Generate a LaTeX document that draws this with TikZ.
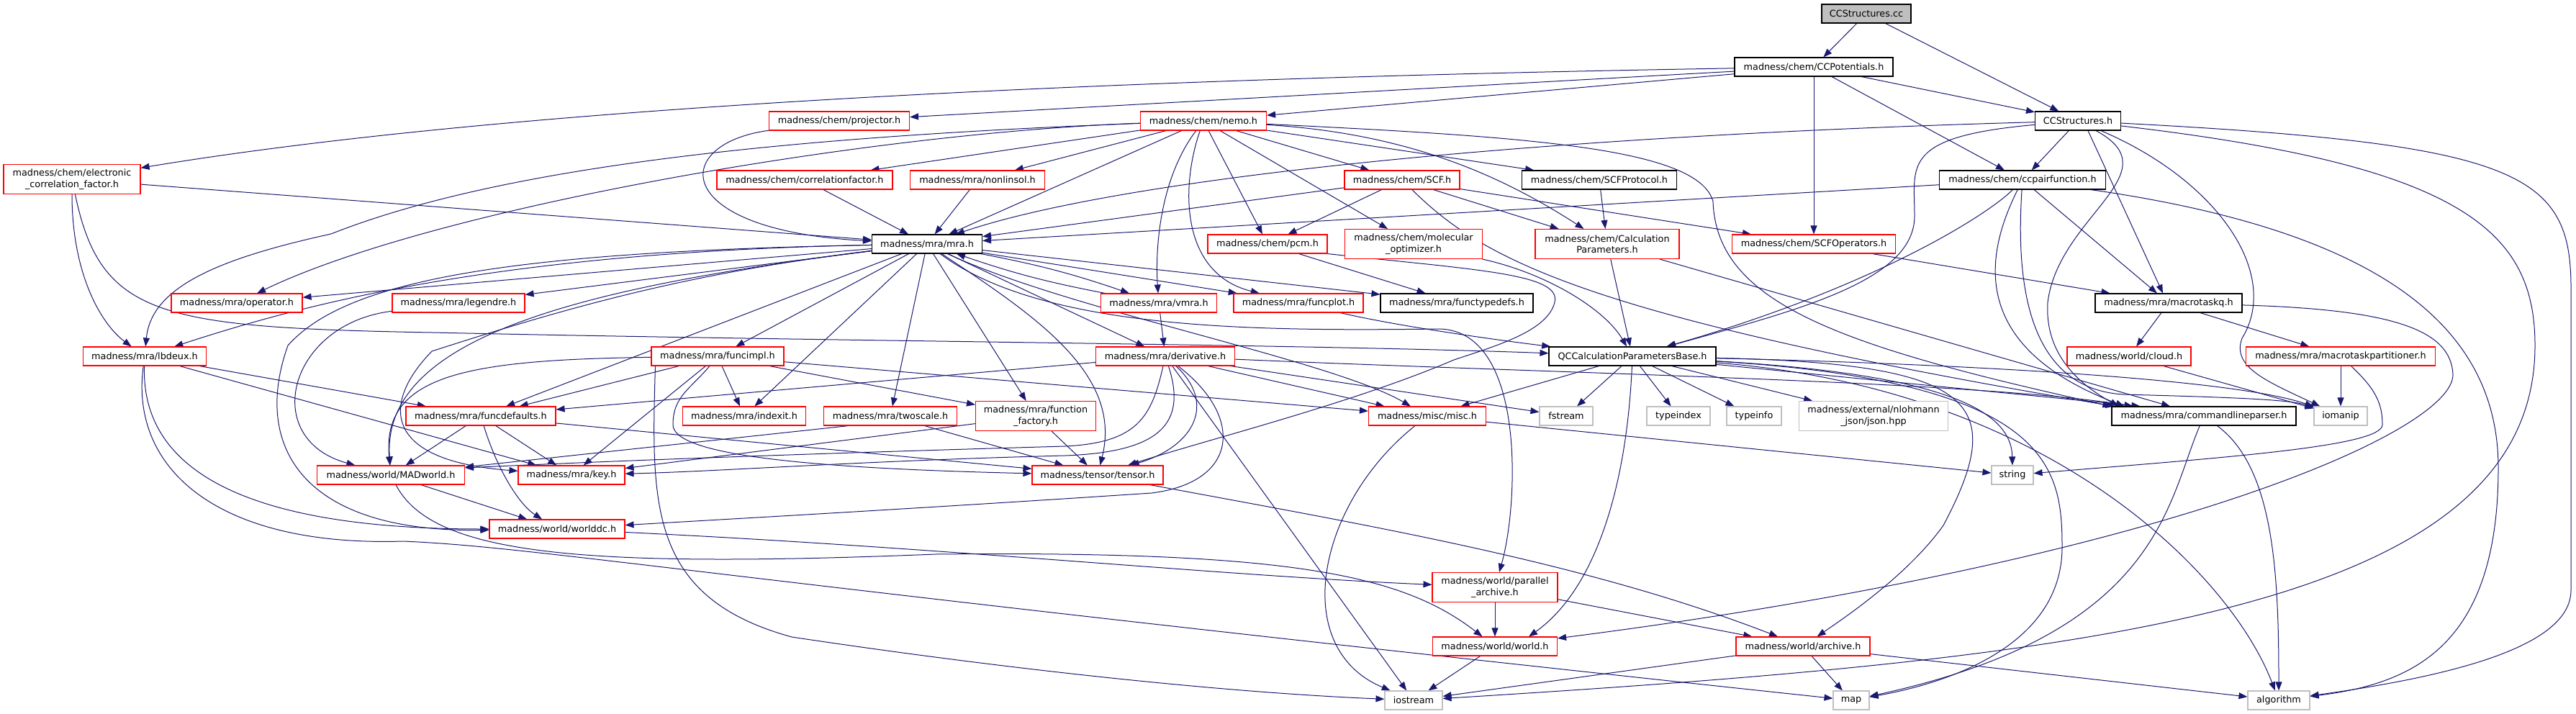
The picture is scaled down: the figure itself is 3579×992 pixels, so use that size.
\documentclass[tikz,border=0pt]{standalone}
\usepackage{fontspec}
\setmainfont{DejaVu Sans}
\usetikzlibrary{arrows.meta}
\definecolor{edgeblue}{HTML}{191970}
\definecolor{sysgray}{HTML}{BFBFBF}
\pgfdeclarelayer{wires}
\pgfsetlayers{wires,main}

\begin{document}
\begin{tikzpicture}[x=1pt,y=-1pt,
    hdr/.style={draw,fill=white,line width=1.1pt,inner sep=0pt,minimum height=26pt,
      align=center,font=\fontsize{12.8}{15.5}\selectfont},
    fullhdr/.style={hdr,draw=black},
    cuthdr/.style={hdr,draw=red},
    syshdr/.style={hdr,draw=sysgray},
    roothdr/.style={hdr,draw=black,fill=sysgray},
    twoline/.style={minimum height=41pt},
    edge/.style={draw=edgeblue,line width=1pt,-{Triangle[length=12pt,width=9pt]}}]

  % Frame
  \useasboundingbox (0,0) rectangle (3579,992);

  % Headers
  \node[roothdr,minimum width=124] (cc) at (2593,19) {CCStructures.cc};
  \node[fullhdr,minimum width=220] (ccpot) at (2520,93) {madness/chem/CCPotentials.h};
  \node[cuthdr,minimum width=195] (proj) at (1166,168) {madness/chem/projector.h};
  \node[cuthdr,minimum width=175] (nemo) at (1672,168) {madness/chem/nemo.h};
  \node[fullhdr,minimum width=119] (ccstr) at (2887,168) {CCStructures.h};

  \node[cuthdr,twoline,minimum width=190] (ecf) at (100,249) {madness/chem/electronic\\\_correlation\_factor.h};
  \node[cuthdr,minimum width=244] (corrf) at (1118,250) {madness/chem/correlationfactor.h};
  \node[cuthdr,minimum width=187] (nonlin) at (1358,250) {madness/mra/nonlinsol.h};
  \node[cuthdr,minimum width=160] (scf) at (1948,250) {madness/chem/SCF.h};
  \node[fullhdr,minimum width=215] (scfprot) at (2222,250) {madness/chem/SCFProtocol.h};
  \node[fullhdr,minimum width=231] (ccpair) at (2810,250) {madness/chem/ccpairfunction.h};

  \node[fullhdr,minimum width=153] (mra) at (1288,339) {madness/mra/mra.h};
  \node[cuthdr,minimum width=166] (pcm) at (1761,339) {madness/chem/pcm.h};
  \node[cuthdr,twoline,minimum width=191] (molopt) at (1964,339) {madness/chem/molecular\\\_optimizer.h};
  \node[cuthdr,twoline,minimum width=200] (calcpar) at (2233,339) {madness/chem/Calculation\\Parameters.h};
  \node[cuthdr,minimum width=227] (scfop) at (2520,339) {madness/chem/SCFOperators.h};

  \node[cuthdr,minimum width=182] (oper) at (329,421) {madness/mra/operator.h};
  \node[cuthdr,minimum width=184] (legendre) at (637,421) {madness/mra/legendre.h};
  \node[cuthdr,minimum width=161] (vmra) at (1610,421) {madness/mra/vmra.h};
  \node[cuthdr,minimum width=180] (funcplot) at (1804,421) {madness/mra/funcplot.h};
  \node[fullhdr,minimum width=212] (functypedefs) at (2024,421) {madness/mra/functypedefs.h};
  \node[fullhdr,minimum width=204] (macroq) at (3013,421) {madness/mra/macrotaskq.h};

  \node[cuthdr,minimum width=171] (lbdeux) at (201,495) {madness/mra/lbdeux.h};
  \node[cuthdr,minimum width=184] (funcimpl) at (997,495) {madness/mra/funcimpl.h};
  \node[cuthdr,minimum width=193] (deriv) at (1619,495) {madness/mra/derivative.h};
  \node[fullhdr,minimum width=232] (qcc) at (2268,495) {QCCalculationParametersBase.h};
  \node[cuthdr,minimum width=172] (cloud) at (2958,495) {madness/world/cloud.h};
  \node[cuthdr,minimum width=263] (mtpart) at (3252,495) {madness/mra/macrotaskpartitioner.h};

  \node[cuthdr,minimum width=208] (funcdef) at (668,578) {madness/mra/funcdefaults.h};
  \node[cuthdr,minimum width=171] (indexit) at (1034,578) {madness/mra/indexit.h};
  \node[cuthdr,minimum width=185] (twoscale) at (1237,578) {madness/mra/twoscale.h};
  \node[cuthdr,twoline,minimum width=167] (funcfact) at (1439,578) {madness/mra/function\\\_factory.h};
  \node[cuthdr,minimum width=163] (misc) at (1983,578) {madness/misc/misc.h};
  \node[syshdr,minimum width=74] (fstream) at (2176,578) {fstream};
  \node[syshdr,minimum width=88] (typeindex) at (2332,578) {typeindex};
  \node[syshdr,minimum width=76] (typeinfo) at (2437,578) {typeinfo};
  \node[syshdr,twoline,minimum width=207] (json) at (2603,578) {madness/external/nlohmann\\\_json/json.hpp};
  \node[fullhdr,minimum width=256] (cmdline) at (3062,578) {madness/mra/commandlineparser.h};
  \node[syshdr,minimum width=74] (iomanip) at (3252,578) {iomanip};

  \node[cuthdr,minimum width=205] (madworld) at (543,660) {madness/world/MADworld.h};
  \node[cuthdr,minimum width=148] (key) at (794,660) {madness/mra/key.h};
  \node[cuthdr,minimum width=182] (tensor) at (1525,660) {madness/tensor/tensor.h};
  \node[syshdr,minimum width=58] (string) at (2796,660) {string};

  \node[cuthdr,minimum width=188] (worlddc) at (774,735) {madness/world/worlddc.h};
  \node[cuthdr,twoline,minimum width=174] (parach) at (2077,816) {madness/world/parallel\\\_archive.h};
  \node[cuthdr,minimum width=173] (world) at (2077,898) {madness/world/world.h};
  \node[cuthdr,minimum width=186] (archive) at (2505,898) {madness/world/archive.h};

  \node[syshdr,minimum width=80] (iostream) at (1964,973) {iostream};
  \node[syshdr,minimum width=50] (map) at (2572,973) {map};
  \node[syshdr,minimum width=86] (algorithm) at (3166,973) {algorithm};

  \begin{pgfonlayer}{wires}
  % CCStructures.cc
  \draw[edge] (cc) -- (ccpot);
  \draw[edge] (cc) -- (ccstr);
  % CCPotentials.h
  \draw[edge] (ccpot) .. controls (1500,110) and (700,150) .. (ecf);
  \draw[edge] (ccpot) -- (proj);
  \draw[edge] (ccpot) -- (nemo);
  \draw[edge] (ccpot) -- (ccstr);
  \draw[edge] (ccpot) -- (ccpair);
  \draw[edge] (ccpot) -- (scfop);
  % CCStructures.h
  \draw[edge] (ccstr) .. controls (2100,190) and (1550,250) .. (mra);
  \draw[edge] (ccstr) -- (ccpair);
  \draw[edge] (ccstr) .. controls (2640,190) and (2660,230) .. (2660,300) .. controls (2660,390) and (2500,430) .. (qcc);
  \draw[edge] ([xshift=14pt]ccstr.south) -- ([xshift=-8pt]macroq.north);
  \draw[edge] (ccstr) .. controls (3020,240) and (2860,300) .. (2845,420) .. controls (2840,500) and (2900,540) .. ([xshift=10pt]cmdline.north west);
  \draw[edge] (ccstr) .. controls (3080,250) and (3170,380) .. (3115,470) .. controls (3100,510) and (3150,530) .. (iomanip);
  \draw[edge] (ccstr) .. controls (3500,200) and (3572,240) .. (3572,400) -- (3572,820) .. controls (3572,900) and (3400,940) .. (algorithm);
  \draw[edge] (ccstr) .. controls (3420,230) and (3522,320) .. (3522,480) .. controls (3522,850) and (2900,915) .. (iostream);
  % ccpairfunction.h
  \draw[edge] (ccpair) -- (mra);
  \draw[edge] (ccpair) .. controls (2760,300) and (2600,400) .. (qcc);
  \draw[edge] (ccpair) -- (macroq);
  \draw[edge] (ccpair) .. controls (2760,350) and (2730,480) .. ([xshift=18pt]cmdline.north west);
  \draw[edge] (ccpair) .. controls (2800,400) and (2820,540) .. (2950,548) .. controls (3100,552) and (3180,555) .. (iomanip);
  \draw[edge] (ccpair) .. controls (3300,320) and (3471,450) .. (3471,650) .. controls (3471,900) and (3350,950) .. (algorithm);
  % nemo.h
  \draw[edge] (nemo) -- (mra);
  \draw[edge] (nemo) -- (corrf);
  \draw[edge] (nemo) -- (nonlin);
  \draw[edge] (nemo) -- (scf);
  \draw[edge] (nemo) -- (scfprot);
  \draw[edge] (nemo) .. controls (1950,185) and (2080,240) .. (calcpar);
  \draw[edge] (nemo) -- (molopt);
  \draw[edge] (nemo) -- (pcm);
  \draw[edge] (nemo) .. controls (1610,250) and (1605,350) .. (vmra);
  \draw[edge] (nemo) .. controls (1640,260) and (1640,380) .. (funcplot);
  \draw[edge] (nemo) .. controls (1200,185) and (600,290) .. (oper);
  \draw[edge] (nemo) .. controls (1100,190) and (700,230) .. (460,325) .. controls (300,360) and (210,400) .. (lbdeux);
  \draw[edge] (nemo) .. controls (2120,190) and (2360,205) .. (2380,280) .. controls (2385,420) and (2550,480) .. (cmdline.north west);
  % electronic_correlation_factor.h
  \draw[edge] (ecf) -- (mra);
  \draw[edge] (ecf) .. controls (100,380) and (140,450) .. (lbdeux);
  \draw[edge] (ecf) .. controls (140,440) and (220,455) .. (600,462) .. controls (1200,475) and (1800,478) .. (qcc);
  % projector, correlationfactor, nonlinsol
  \draw[edge] (proj) .. controls (930,200) and (930,320) .. (mra);
  \draw[edge] (corrf) -- (mra);
  \draw[edge] (nonlin) -- (mra);
  % SCF.h
  \draw[edge] (scf) -- (mra);
  \draw[edge] (scf) -- (pcm);
  \draw[edge] (scf) -- (calcpar);
  \draw[edge] (scf) -- (scfop);
  \draw[edge] (scf) .. controls (2060,360) and (2200,440) .. ([xshift=4pt]cmdline.north west);
  % SCFProtocol, CalculationParameters, molecular_optimizer, pcm, SCFOperators
  \draw[edge] (scfprot) -- (calcpar);
  \draw[edge] (calcpar) -- (qcc);
  \draw[edge] (calcpar) -- (cmdline);
  \draw[edge] (molopt) .. controls (2150,380) and (2230,430) .. (qcc);
  \draw[edge] (pcm) -- (functypedefs);
  \draw[edge] (pcm.south east) .. controls (2050,375) and (2170,380) .. (2160,420) .. controls (2150,460) and (2080,480) .. (2020,500) .. controls (1880,560) and (1680,610) .. (tensor);
  \draw[edge] (scfop) -- (macroq);
  % mra.h
  \draw[edge] (mra) -- (oper);
  \draw[edge] (mra) -- (legendre);
  \draw[edge] (mra) .. controls (700,350) and (430,420) .. (lbdeux);
  \draw[edge] (mra) -- (funcdef);
  \draw[edge] (mra) .. controls (800,400) and (530,470) .. (madworld);
  \draw[edge] (mra) .. controls (950,380) and (780,430) .. (600,488) .. controls (530,560) and (530,640) .. (key);
  \draw[edge] (mra) .. controls (700,350) and (480,390) .. (400,480) .. controls (350,620) and (420,740) .. (worlddc);
  \draw[edge] (mra) -- (funcimpl);
  \draw[edge] (mra) -- (indexit);
  \draw[edge] (mra) -- (twoscale);
  \draw[edge] (mra) -- (funcfact);
  \draw[edge] (mra) .. controls (1440,440) and (1560,520) .. (tensor);
  \draw[edge] (mra) -- (deriv);
  \draw[edge] (mra) to[bend left=4] (vmra);
  \draw[edge] (mra) -- (funcplot);
  \draw[edge] (mra) -- (functypedefs);
  \draw[edge] (mra) .. controls (1480,430) and (1850,500) .. (misc);
  \draw[edge] (mra) .. controls (1450,460) and (1750,460) .. (2000,457) .. controls (2120,460) and (2110,700) .. (parach);
  % vmra.h, funcplot.h
  \draw[edge] (vmra) to[bend left=4] (mra);
  \draw[edge] (vmra) -- (deriv);
  \draw[edge] (funcplot) .. controls (1950,455) and (2100,475) .. (qcc);
  % lbdeux.h, legendre.h
  \draw[edge] (lbdeux) -- (funcdef);
  \draw[edge] (lbdeux) -- (key);
  \draw[edge] (lbdeux) .. controls (195,680) and (400,735) .. (worlddc);
  \draw[edge] (lbdeux) .. controls (180,650) and (300,760) .. (560,752) .. controls (750,760) and (950,800) .. (map);
  \draw[edge] (legendre) .. controls (400,450) and (360,610) .. (madworld);
  % funcimpl.h
  \draw[edge] (funcimpl) -- (funcdef);
  \draw[edge] (funcimpl) .. controls (650,500) and (530,520) .. (madworld);
  \draw[edge] (funcimpl) -- (key);
  \draw[edge] (funcimpl) -- (indexit);
  \draw[edge] (funcimpl) -- (funcfact);
  \draw[edge] (funcimpl) .. controls (960,540) and (935,550) .. (935,590) .. controls (935,630) and (1100,650) .. (tensor);
  \draw[edge] (funcimpl) -- (misc);
  \draw[edge] ([xshift=6pt]funcimpl.south west) .. controls (905,700) and (900,830) .. (1100,885) .. controls (1400,930) and (1700,962) .. (iostream);
  % twoscale.h, function_factory.h
  \draw[edge] ([xshift=-58pt]twoscale.south) -- (madworld);
  \draw[edge] (twoscale) -- (tensor);
  \draw[edge] (funcfact) -- (tensor);
  \draw[edge] (funcfact) -- (key);
  % derivative.h
  \draw[edge] (deriv) -- (funcdef);
  \draw[edge] (deriv) .. controls (1600,580) and (1580,615) .. (1480,620) .. controls (1200,628) and (900,638) .. ([yshift=10pt]madworld.east);
  \draw[edge] (deriv) .. controls (1650,590) and (1610,628) .. (1480,633) .. controls (1200,640) and (1000,655) .. (key);
  \draw[edge] (deriv) .. controls (1690,560) and (1660,620) .. (tensor);
  \draw[edge] (deriv) .. controls (1730,580) and (1720,670) .. (1600,685) .. controls (1300,705) and (1000,722) .. (worlddc);
  \draw[edge] (deriv) -- (misc);
  \draw[edge] (deriv) -- (fstream);
  \draw[edge] (deriv) -- (iostream);
  \draw[edge] (deriv) .. controls (2200,520) and (2750,530) .. ([xshift=30pt]cmdline.north west);
  % misc.h
  \draw[edge] (misc) .. controls (1830,700) and (1790,900) .. (iostream);
  \draw[edge] (misc) -- (string);
  % QCCalculationParametersBase.h
  \draw[edge] (qcc) -- (misc);
  \draw[edge] (qcc) -- (fstream);
  \draw[edge] (qcc) -- (typeindex);
  \draw[edge] (qcc) -- (typeinfo);
  \draw[edge] (qcc) -- (json);
  \draw[edge] (qcc) .. controls (2260,680) and (2215,820) .. ([xshift=-40pt]world.north east);
  \draw[edge] (qcc) -- ([xshift=40pt]cmdline.north west);
  \draw[edge] (qcc) .. controls (2700,505) and (3100,525) .. (iomanip);
  \draw[edge] (qcc) .. controls (2700,520) and (2795,570) .. (string);
  \draw[edge] (qcc) .. controls (2750,505) and (2790,560) .. (2700,730) .. controls (2650,800) and (2560,860) .. (archive);
  \draw[edge] (qcc) .. controls (2850,530) and (2865,650) .. (2865,760) .. controls (2865,900) and (2700,950) .. (map);
  \draw[edge] (qcc) .. controls (2850,540) and (3100,800) .. (algorithm);
  % commandlineparser.h
  \draw[edge] (cmdline) .. controls (3010,700) and (3000,880) .. (map);
  \draw[edge] (cmdline) .. controls (3160,650) and (3166,800) .. (algorithm);
  % macrotaskq.h, cloud.h, macrotaskpartitioner.h
  \draw[edge] (macroq) -- (cloud);
  \draw[edge] (macroq) -- (mtpart);
  \draw[edge] (macroq) .. controls (3330,430) and (3405,460) .. (3408,520) .. controls (3410,600) and (3000,780) .. (world);
  \draw[edge] (cloud) -- (iomanip);
  \draw[edge] (mtpart) -- (iomanip);
  \draw[edge] (mtpart) .. controls (3300,540) and (3310,560) .. (3310,590) .. controls (3310,620) and (3100,635) .. (string);
  % funcdefaults.h
  \draw[edge] (funcdef) -- (madworld);
  \draw[edge] (funcdef) -- (key);
  \draw[edge] (funcdef) .. controls (690,650) and (720,700) .. (worlddc);
  \draw[edge] (funcdef) -- (tensor);
  % MADworld.h, worlddc.h, tensor.h
  \draw[edge] (madworld) -- (worlddc);
  \draw[edge] (madworld) .. controls (600,770) and (800,790) .. (1300,770) .. controls (1800,765) and (1950,800) .. (world);
  \draw[edge] (worlddc) .. controls (1300,760) and (1700,800) .. (parach);
  \draw[edge] (tensor) .. controls (1900,730) and (2200,780) .. (archive);
  % parallel_archive.h, world.h, archive.h
  \draw[edge] (parach) -- (world);
  \draw[edge] (parach) -- (archive);
  \draw[edge] (world) -- (iostream);
  \draw[edge] (archive) -- (iostream);
  \draw[edge] (archive) -- (map);
  \draw[edge] (archive) -- (algorithm);
  \end{pgfonlayer}
\end{tikzpicture}
\end{document}
